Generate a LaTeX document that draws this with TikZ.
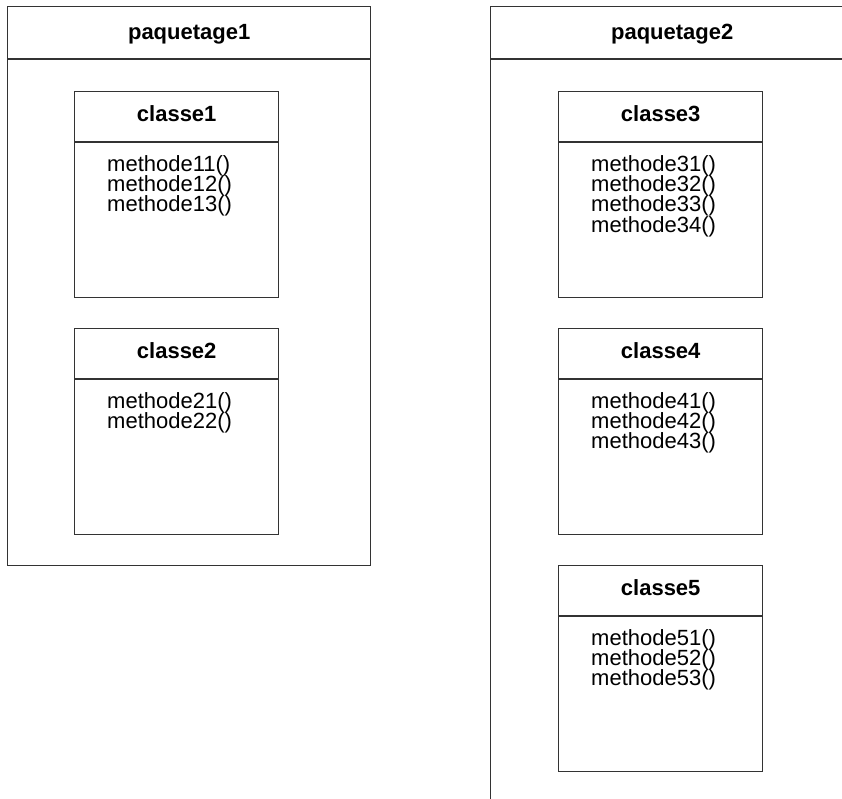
\documentclass[tikz,border=0pt]{standalone}
\usepackage{fontspec}
\setmainfont{Liberation Sans}
\setlength{\lineskiplimit}{-10pt}

\tikzset{
    trait/.style={draw=black!80, line width=1.4pt},
    paquet/.style={trait, rectangle, anchor=north west, inner sep=0pt,
        minimum width=363pt},
    classe/.style={trait, rectangle, anchor=north west, inner sep=0pt,
        minimum width=204pt, minimum height=206pt},
    titre/.style={anchor=base, inner sep=0pt,
        font=\bfseries\fontsize{22pt}{22pt}\selectfont},
    methodes/.style={anchor=base west, inner sep=0pt,
        font=\fontsize{22pt}{20.4pt}\selectfont}
}

\begin{document}
\begin{tikzpicture}[x=1pt, y=-1pt]
    \useasboundingbox (0,0) rectangle (842,798);
    \clip (0,0) rectangle (842,798);

    %% Packages
    \node[paquet, minimum height=559pt] (p1) at (7,6) {};
    \node[paquet, minimum height=830pt] (p2) at (490,6) {};
    \draw[trait] ([yshift=-53pt]p1.north west) -- ([yshift=-53pt]p1.north east);
    \draw[trait] ([yshift=-53pt]p2.north west) -- ([yshift=-53pt]p2.north east);
    \node[titre] (tp1) at ([yshift=-33pt]p1.north) {paquetage1};
    \node[titre] (tp2) at ([yshift=-33pt]p2.north) {paquetage2};

    %% Classes
    \node[classe] (c1) at (74,91)  {};
    \node[classe] (c2) at (74,328) {};
    \node[classe] (c3) at (558,91)  {};
    \node[classe] (c4) at (558,328) {};
    \node[classe] (c5) at (558,565) {};
    \foreach \c in {c1,c2,c3,c4,c5}
        \draw[trait] ([yshift=-51pt]\c.north west) -- ([yshift=-51pt]\c.north east);

    %% Class names
    \node[titre] (tc1) at ([yshift=-30pt]c1.north) {classe1};
    \node[titre] (tc2) at ([yshift=-30pt]c2.north) {classe2};
    \node[titre] (tc3) at ([yshift=-30pt]c3.north) {classe3};
    \node[titre] (tc4) at ([yshift=-30pt]c4.north) {classe4};
    \node[titre] (tc5) at ([yshift=-30pt]c5.north) {classe5};

    %% Methods
    \node[methodes] (m1) at ([xshift=33pt, yshift=-80pt]c1.north west)
        {\vtop{\hbox{methode11()}\hbox{methode12()}\hbox{methode13()}}};
    \node[methodes] (m2) at ([xshift=33pt, yshift=-80pt]c2.north west)
        {\vtop{\hbox{methode21()}\hbox{methode22()}}};
    \node[methodes] (m3) at ([xshift=33pt, yshift=-80pt]c3.north west)
        {\vtop{\hbox{methode31()}\hbox{methode32()}\hbox{methode33()}\hbox{methode34()}}};
    \node[methodes] (m4) at ([xshift=33pt, yshift=-80pt]c4.north west)
        {\vtop{\hbox{methode41()}\hbox{methode42()}\hbox{methode43()}}};
    \node[methodes] (m5) at ([xshift=33pt, yshift=-80pt]c5.north west)
        {\vtop{\hbox{methode51()}\hbox{methode52()}\hbox{methode53()}}};
\end{tikzpicture}
\end{document}
